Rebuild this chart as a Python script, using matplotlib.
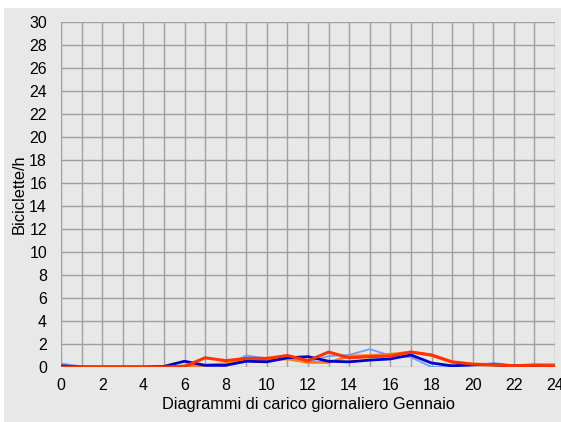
import numpy as np
import matplotlib.pyplot as plt
from matplotlib.patches import Rectangle

plt.rcParams['font.family'] = ['Liberation Sans', 'DejaVu Sans']

hours = list(range(25))
light_blue = [0.3, 0.05, 0, 0, 0, 0, 0.05, 0.1, 0.1, 1.0, 0.75, 0.7, 0.45, 0.95, 1.05,
              1.55, 1.0, 0.85, 0, 0, 0.1, 0.35, 0.15, 0.25, 0.25]
dark_blue = [0.1, 0, 0, 0, 0, 0.05, 0.5, 0.15, 0.15, 0.5, 0.45, 0.8, 0.9, 0.5, 0.45,
             0.6, 0.7, 1.05, 0.35, 0.1, 0.2, 0.2, 0.1, 0.05, 0.05]
orange = [0.05, 0, 0, 0, 0, 0, 0.1, 0.15, 0.3, 0.6, 0.6, 0.7, 0.4, 0.4, 0.95,
          1.0, 1.1, 1.3, 1.0, 0.4, 0.2, 0.15, 0.1, 0.1, 0.1]
red = [0, 0, 0, 0, 0, 0, 0.05, 0.8, 0.55, 0.75, 0.75, 1.0, 0.55, 1.3, 0.8,
       0.9, 0.95, 1.3, 1.05, 0.45, 0.25, 0.2, 0.1, 0.15, 0.1]
x_ticks = list(range(0, 25, 2))
y_ticks = list(range(0, 31, 2))

bg = '#e8e8e8'
fig = plt.figure(figsize=(5.61, 4.22), dpi=100)
fig.patch.set_facecolor('white')
fig.patches.append(Rectangle((4 / 561, 0), 1, 1 - 8 / 422, transform=fig.transFigure,
                             facecolor=bg, edgecolor='none', zorder=-10))

ax = fig.add_axes([61 / 561, 1 - 367 / 422, (555 - 61) / 561, (367 - 22) / 422])
ax.set_facecolor(bg)

ax.plot(hours, light_blue, color='#6f9cff', lw=1.3, zorder=3)
ax.plot(hours, orange, color='#ff7a1a', lw=2.0, zorder=3)
ax.plot(hours, dark_blue, color='#0000c8', lw=2.0, zorder=4)
ax.plot(hours, red, color='#ff3300', lw=2.2, zorder=5)

ax.set_xlim(0, 24)
ax.set_ylim(0, 30)
ax.set_xticks(x_ticks)
ax.set_xticks(range(25), minor=True)
ax.set_yticks(y_ticks)
ax.grid(True, which='both', axis='x', color='#a0a0a0', lw=1)
ax.grid(True, which='major', axis='y', color='#a0a0a0', lw=1)
ax.set_axisbelow(True)
for s in ax.spines.values():
    s.set_visible(False)
ax.tick_params(which='both', length=0, labelsize=11.5, pad=8)
ax.tick_params(axis='y', pad=10)

ax.set_xlabel('Diagrammi di carico giornaliero Gennaio', fontsize=11.8, labelpad=3)
ax.set_ylabel('Biciclette/h', fontsize=11.8, labelpad=2)

fig.savefig('out.png', dpi=100)
